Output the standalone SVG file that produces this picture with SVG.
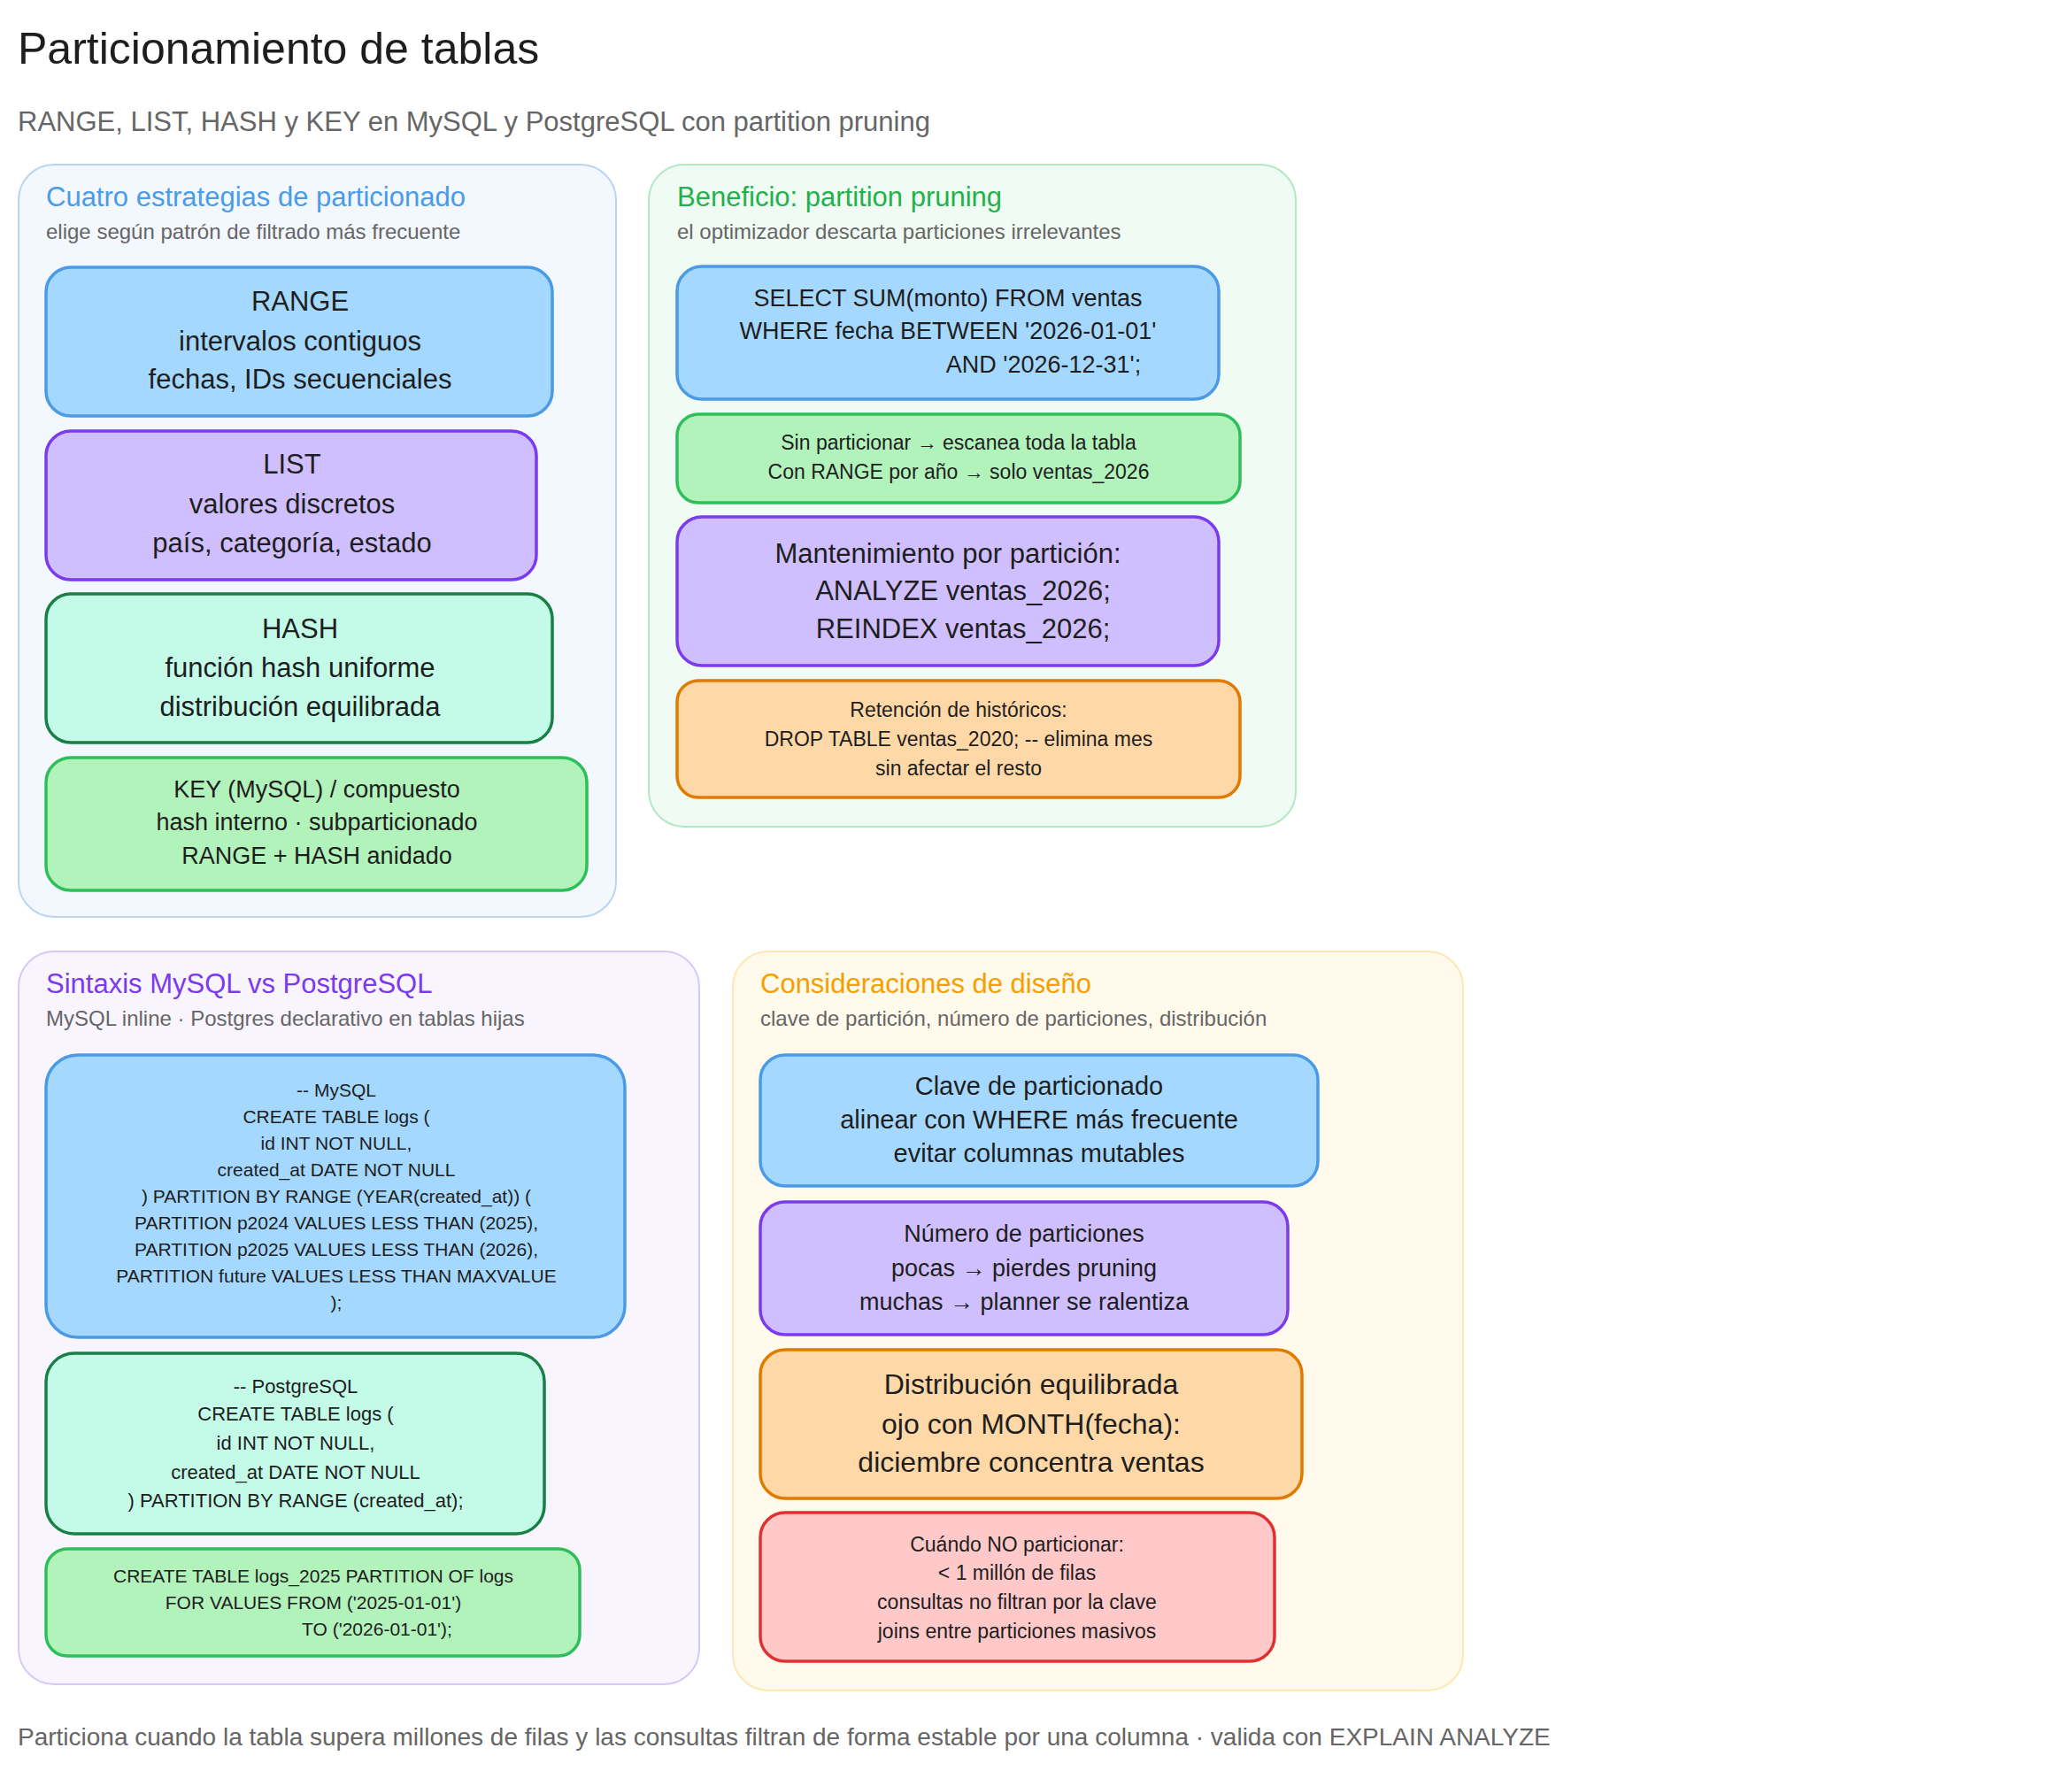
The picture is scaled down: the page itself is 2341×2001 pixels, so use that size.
<svg xmlns="http://www.w3.org/2000/svg" width="2341" height="2001" viewBox="0 0 2341 2001">
<style>
text{font-family:"Liberation Sans","DejaVu Sans",sans-serif;fill:#1e1e1e;dominant-baseline:central}
.c{text-anchor:middle}
.pt{font-size:31px}
.ps{font-size:24px;fill:#666}
.n{stroke-width:3.5}
.blue{fill:#a5d8ff;stroke:#4a9ae6}
.purple{fill:#d0bfff;stroke:#7c3aed}
.teal{fill:#c3fae8;stroke:#1a7f45}
.green{fill:#b2f2bb;stroke:#2fbf5a}
.orange{fill:#ffd8a8;stroke:#e07b00}
.red{fill:#ffc9c9;stroke:#e03131}
</style>
<rect width="2341" height="2001" fill="#fff"/>
<text x="20" y="55" font-size="50">Particionamiento de tablas</text>
<text x="20" y="137" font-size="31" style="fill:#666">RANGE, LIST, HASH y KEY en MySQL y PostgreSQL con partition pruning</text>

<g id="panel1">
<rect x="21" y="186" width="675" height="850" rx="40" fill="#f3f7fe" stroke="#b9d5f3" stroke-width="2"/>
<text x="52" y="222" class="pt" style="fill:#4a9be8">Cuatro estrategias de particionado</text>
<text x="52" y="261" class="ps">elige según patrón de filtrado más frecuente</text>
</g>
<g id="range"><rect class="n blue" x="52" y="302" width="572" height="168" rx="28"/>
<text class="c" font-size="31" x="339" y="340">RANGE</text><text class="c" font-size="31" x="339" y="385">intervalos contiguos</text><text class="c" font-size="31" x="339" y="428">fechas, IDs secuenciales</text></g>
<g id="list"><rect class="n purple" x="52" y="487" width="554" height="168" rx="28"/>
<text class="c" font-size="31" x="330" y="524">LIST</text><text class="c" font-size="31" x="330" y="569">valores discretos</text><text class="c" font-size="31" x="330" y="613">país, categoría, estado</text></g>
<g id="hash"><rect class="n teal" x="52" y="671" width="572" height="168" rx="28"/>
<text class="c" font-size="31" x="339" y="710">HASH</text><text class="c" font-size="31" x="339" y="754">función hash uniforme</text><text class="c" font-size="31" x="339" y="798">distribución equilibrada</text></g>
<g id="key"><rect class="n green" x="52" y="856" width="611" height="150" rx="28"/>
<text class="c" font-size="27" x="358" y="892">KEY (MySQL) / compuesto</text><text class="c" font-size="27" x="358" y="929">hash interno · subparticionado</text><text class="c" font-size="27" x="358" y="967">RANGE + HASH anidado</text></g>

<g id="panel2">
<rect x="733" y="186" width="731" height="748" rx="40" fill="#f0fbf3" stroke="#b2e8c4" stroke-width="2"/>
<text x="765" y="222" class="pt" style="fill:#22b14c">Beneficio: partition pruning</text>
<text x="765" y="261" class="ps">el optimizador descarta particiones irrelevantes</text>
</g>
<g id="select"><rect class="n blue" x="765" y="301" width="612" height="150" rx="28"/>
<text class="c" font-size="27" x="1071" y="337">SELECT SUM(monto) FROM ventas</text><text class="c" font-size="27" x="1071" y="374">WHERE fecha BETWEEN '2026-01-01'</text><text class="c" font-size="27" x="1179" y="412">AND '2026-12-31';</text></g>
<g id="sinpart"><rect class="n green" x="765" y="468" width="636" height="100" rx="24"/>
<text class="c" font-size="23" x="1083" y="500">Sin particionar → escanea toda la tabla</text><text class="c" font-size="23" x="1083" y="533">Con RANGE por año → solo ventas_2026</text></g>
<g id="mant"><rect class="n purple" x="765" y="584" width="612" height="168" rx="28"/>
<text class="c" font-size="31" x="1071" y="625">Mantenimiento por partición:</text><text class="c" font-size="31" x="1088" y="667">ANALYZE ventas_2026;</text><text class="c" font-size="31" x="1088" y="710">REINDEX ventas_2026;</text></g>
<g id="retencion"><rect class="n orange" x="765" y="769" width="636" height="132" rx="24"/>
<text class="c" font-size="23" x="1083" y="802">Retención de históricos:</text><text class="c" font-size="23" x="1083" y="835">DROP TABLE ventas_2020;  -- elimina mes</text><text class="c" font-size="23" x="1083" y="868">sin afectar el resto</text></g>

<g id="panel3">
<rect x="21" y="1075" width="769" height="828" rx="40" fill="#f8f5fe" stroke="#d7c9f5" stroke-width="2"/>
<text x="52" y="1111" class="pt" style="fill:#7c3aed">Sintaxis MySQL vs PostgreSQL</text>
<text x="52" y="1150" class="ps">MySQL inline · Postgres declarativo en tablas hijas</text>
</g>
<g id="mysql"><rect class="n blue" x="52" y="1192" width="654" height="319" rx="36"/>
<text class="c" font-size="21" x="380" y="1231">-- MySQL</text>
<text class="c" font-size="21" x="380" y="1261">CREATE TABLE logs (</text>
<text class="c" font-size="21" x="380" y="1291">id INT NOT NULL,</text>
<text class="c" font-size="21" x="380" y="1321">created_at DATE NOT NULL</text>
<text class="c" font-size="21" x="380" y="1351">) PARTITION BY RANGE (YEAR(created_at)) (</text>
<text class="c" font-size="21" x="380" y="1381">PARTITION p2024 VALUES LESS THAN (2025),</text>
<text class="c" font-size="21" x="380" y="1411">PARTITION p2025 VALUES LESS THAN (2026),</text>
<text class="c" font-size="21" x="380" y="1441">PARTITION future VALUES LESS THAN MAXVALUE</text>
<text class="c" font-size="21" x="380" y="1471">);</text></g>
<g id="postgres"><rect class="n teal" x="52" y="1529" width="563" height="204" rx="32"/>
<text class="c" font-size="22" x="334" y="1566">-- PostgreSQL</text>
<text class="c" font-size="22" x="334" y="1597">CREATE TABLE logs (</text>
<text class="c" font-size="22" x="334" y="1630">id INT NOT NULL,</text>
<text class="c" font-size="22" x="334" y="1663">created_at DATE NOT NULL</text>
<text class="c" font-size="22" x="334" y="1695">) PARTITION BY RANGE (created_at);</text></g>
<g id="pgchild"><rect class="n green" x="52" y="1750" width="603" height="121" rx="24"/>
<text class="c" font-size="21" x="354" y="1780">CREATE TABLE logs_2025 PARTITION OF logs</text>
<text class="c" font-size="21" x="354" y="1810">FOR VALUES FROM ('2025-01-01')</text>
<text class="c" font-size="21" x="426" y="1840">TO   ('2026-01-01');</text></g>

<g id="panel4">
<rect x="828" y="1075" width="825" height="835" rx="40" fill="#fffaeb" stroke="#fde8b0" stroke-width="2"/>
<text x="859" y="1111" class="pt" style="fill:#f59f00">Consideraciones de diseño</text>
<text x="859" y="1150" class="ps">clave de partición, número de particiones, distribución</text>
</g>
<g id="clave"><rect class="n blue" x="859" y="1192" width="630" height="148" rx="28"/>
<text class="c" font-size="29" x="1174" y="1227">Clave de particionado</text><text class="c" font-size="29" x="1174" y="1265">alinear con WHERE más frecuente</text><text class="c" font-size="29" x="1174" y="1303">evitar columnas mutables</text></g>
<g id="numero"><rect class="n purple" x="859" y="1358" width="596" height="150" rx="28"/>
<text class="c" font-size="27" x="1157" y="1394">Número de particiones</text><text class="c" font-size="27" x="1157" y="1433">pocas → pierdes pruning</text><text class="c" font-size="27" x="1157" y="1471">muchas → planner se ralentiza</text></g>
<g id="distrib"><rect class="n orange" x="859" y="1525" width="612" height="168" rx="28"/>
<text class="c" font-size="32" x="1165" y="1564">Distribución equilibrada</text><text class="c" font-size="32" x="1165" y="1609">ojo con MONTH(fecha):</text><text class="c" font-size="32" x="1165" y="1652">diciembre concentra ventas</text></g>
<g id="cuando"><rect class="n red" x="859" y="1709" width="581" height="168" rx="28"/>
<text class="c" font-size="23" x="1149" y="1745">Cuándo NO particionar:</text><text class="c" font-size="23" x="1149" y="1777">&lt; 1 millón de filas</text><text class="c" font-size="23" x="1149" y="1810">consultas no filtran por la clave</text><text class="c" font-size="23" x="1149" y="1843">joins entre particiones masivos</text></g>

<g id="connectors"></g>
<text x="20" y="1962" font-size="28" style="fill:#666">Particiona cuando la tabla supera millones de filas y las consultas filtran de forma estable por una columna · valida con EXPLAIN ANALYZE</text>
</svg>
